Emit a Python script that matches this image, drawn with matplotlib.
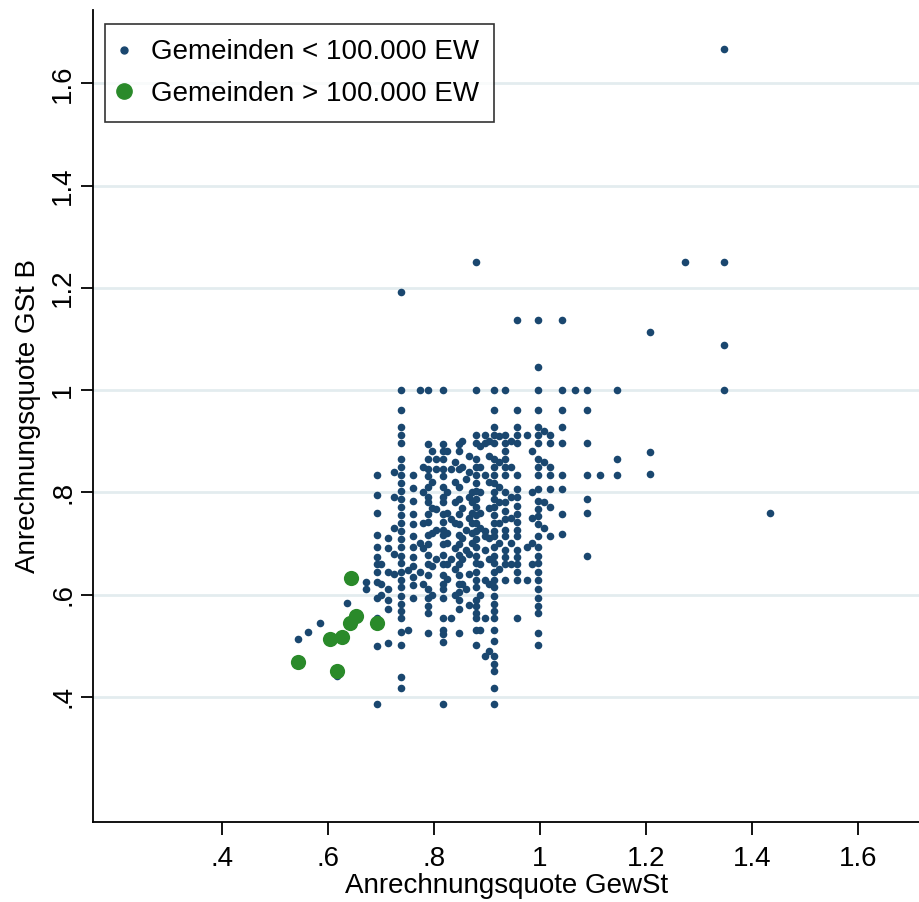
import matplotlib
matplotlib.use("Agg")
import matplotlib.pyplot as plt
from matplotlib.lines import Line2D

plt.rcParams['font.family'] = ['Liberation Sans', 'DejaVu Sans']

# ---- data: municipalities < 100.000 inhabitants, grouped by x value ----
col_x = [0.543, 0.562, 0.585, 0.617, 0.636, 0.672,
         0.692, 0.700, 0.713, 0.725, 0.738, 0.751, 0.760, 0.774, 0.780, 0.789,
         0.797, 0.804, 0.817, 0.825, 0.832, 0.840, 0.847, 0.853, 0.860, 0.866,
         0.872, 0.879, 0.887, 0.896, 0.905, 0.913, 0.922, 0.934, 0.945, 0.957,
         0.975, 0.985, 0.996, 1.008, 1.019, 1.042, 1.066, 1.089, 1.113, 1.145,
         1.208, 1.274, 1.347, 1.434]
col_y = [
    [0.512],                                   # 0.543
    [0.527],                                   # 0.562
    [0.545],                                   # 0.585
    [0.440],                                   # 0.617
    [0.584],                                   # 0.636
    [0.625, 0.610],                            # 0.672
    [0.833, 0.794, 0.759, 0.716, 0.692, 0.673, 0.659, 0.645, 0.624, 0.594, 0.555, 0.500, 0.386],
    [0.660, 0.620, 0.600],                     # 0.700
    [0.710, 0.690, 0.645, 0.610, 0.590, 0.571, 0.506],
    [0.840, 0.790, 0.730, 0.680, 0.640],       # 0.725
    [1.192, 1.000, 0.961, 0.927, 0.912, 0.896, 0.865, 0.849, 0.833, 0.818, 0.802, 0.786, 0.771,
     0.755, 0.739, 0.724, 0.708, 0.692, 0.676, 0.661, 0.645, 0.629, 0.614, 0.598, 0.582, 0.567,
     0.555, 0.526, 0.502, 0.439, 0.418],
    [0.530, 0.647],                            # 0.751
    [0.833, 0.808, 0.782, 0.757, 0.737, 0.714, 0.692, 0.673, 0.655, 0.635, 0.618, 0.594],
    [1.000, 0.700, 0.645],                     # 0.774
    [0.850, 0.800, 0.740, 0.690, 0.620],       # 0.780
    [1.000, 0.894, 0.865, 0.845, 0.831, 0.810, 0.790, 0.780, 0.757, 0.741, 0.716, 0.698, 0.678,
     0.659, 0.639, 0.610, 0.594, 0.578, 0.563, 0.524],
    [0.880, 0.820, 0.770, 0.720, 0.655, 0.600],  # 0.797
    [0.865, 0.845, 0.767, 0.727, 0.669],       # 0.804
    [1.000, 0.894, 0.880, 0.865, 0.845, 0.831, 0.810, 0.790, 0.780, 0.757, 0.741, 0.727, 0.716,
     0.698, 0.678, 0.659, 0.639, 0.620, 0.610, 0.594, 0.555, 0.531, 0.522, 0.508, 0.386],
    [0.880, 0.800, 0.760, 0.720, 0.700, 0.660, 0.630],  # 0.825
    [0.845, 0.747, 0.669, 0.555],              # 0.832
    [0.860, 0.820, 0.780, 0.740, 0.690, 0.650, 0.600],  # 0.840
    [0.894, 0.880, 0.845, 0.810, 0.786, 0.757, 0.737, 0.716, 0.698, 0.678, 0.659, 0.639, 0.620,
     0.604, 0.590, 0.571, 0.524],
    [0.900, 0.850, 0.770, 0.710, 0.670, 0.620],  # 0.853
    [0.825, 0.727, 0.688, 0.610],              # 0.860
    [0.870, 0.840, 0.790, 0.750, 0.680, 0.640, 0.580],  # 0.866
    [0.800, 0.780, 0.760, 0.740, 0.720, 0.700],  # 0.872
    [1.251, 1.000, 0.912, 0.896, 0.865, 0.849, 0.833, 0.818, 0.802, 0.786, 0.771, 0.755, 0.739,
     0.724, 0.708, 0.692, 0.676, 0.661, 0.645, 0.629, 0.614, 0.590, 0.578, 0.563, 0.555, 0.531,
     0.502],
    [0.890, 0.850, 0.800, 0.760, 0.730, 0.660, 0.600, 0.530],  # 0.887
    [0.912, 0.896, 0.833, 0.725, 0.714, 0.688, 0.629, 0.555, 0.479],
    [0.900, 0.870, 0.820, 0.770, 0.710, 0.670, 0.620, 0.490],  # 0.905
    [1.000, 0.961, 0.927, 0.912, 0.896, 0.865, 0.849, 0.833, 0.818, 0.800, 0.786, 0.771, 0.755,
     0.739, 0.724, 0.714, 0.692, 0.676, 0.661, 0.645, 0.629, 0.614, 0.598, 0.582, 0.567, 0.555,
     0.531, 0.510, 0.479, 0.465, 0.450, 0.418, 0.386],
    [0.910, 0.860, 0.810, 0.780, 0.740, 0.700, 0.650],  # 0.922
    [1.000, 0.912, 0.896, 0.880, 0.865, 0.849, 0.833, 0.800, 0.780, 0.763, 0.747, 0.727, 0.714,
     0.688, 0.673, 0.659, 0.629],
    [0.900, 0.850, 0.790, 0.750, 0.700, 0.660],  # 0.945
    [1.137, 0.961, 0.927, 0.912, 0.896, 0.833, 0.806, 0.790, 0.773, 0.757, 0.741, 0.727, 0.714,
     0.688, 0.673, 0.659, 0.645, 0.629, 0.555],
    [0.912, 0.692, 0.629],                     # 0.975
    [0.880, 0.800, 0.750, 0.700, 0.660],       # 0.985
    [1.137, 1.045, 1.000, 0.961, 0.927, 0.912, 0.896, 0.865, 0.849, 0.833, 0.806, 0.782, 0.767,
     0.753, 0.737, 0.714, 0.692, 0.676, 0.661, 0.645, 0.629, 0.610, 0.594, 0.578, 0.563, 0.524,
     0.502],
    [0.920, 0.860, 0.780, 0.730],              # 1.008
    [0.912, 0.896, 0.849, 0.833, 0.806, 0.771, 0.714],
    [1.137, 1.000, 0.961, 0.927, 0.896, 0.833, 0.806, 0.757, 0.718],
    [1.000],
    [1.000, 0.961, 0.896, 0.833, 0.786, 0.759, 0.676],
    [0.833],
    [1.000, 0.865, 0.833],
    [1.114, 0.878, 0.835],
    [1.250],
    [1.667, 1.250, 1.088, 1.000],
    [0.759],
]

# ---- municipalities > 100.000 inhabitants ----
green_x = [0.643, 0.653, 0.642, 0.692, 0.626, 0.604, 0.543, 0.617]
green_y = [0.633, 0.557, 0.545, 0.545, 0.516, 0.512, 0.467, 0.451]

labels = ["Gemeinden < 100.000 EW", "Gemeinden > 100.000 EW"]
ticks = [0.4, 0.6, 0.8, 1.0, 1.2, 1.4, 1.6]
tick_labels = [".4", ".6", ".8", "1", "1.2", "1.4", "1.6"]

blue_x = [x for x, ys in zip(col_x, col_y) for _ in ys]
blue_y = [y for ys in col_y for y in ys]

navy = "#1a476f"
green = "#2a8a2a"

fig = plt.figure(figsize=(9.2, 9.02), dpi=100)
ax = fig.add_axes([0.101, 0.0887, 0.899, 0.9])

for t in ticks:
    ax.axhline(t, color="#e3ecef", lw=2, zorder=0)

ax.scatter(blue_x, blue_y, s=30, color=navy, linewidths=0, zorder=2)
ax.scatter(green_x, green_y, s=120, color=green, linewidths=0, zorder=3)

ax.set_xlim(0.157, 1.717)
ax.set_ylim(0.155, 1.743)
ax.set_xticks(ticks)
ax.set_xticklabels(tick_labels)
ax.set_yticks(ticks)
ax.set_yticklabels(tick_labels, rotation=90, va="center")
ax.tick_params(axis="both", labelsize=20, length=9, width=1.3, color="black")
ax.tick_params(axis="x", pad=8)
ax.tick_params(axis="y", pad=3)
for s in ["top", "right"]:
    ax.spines[s].set_visible(False)
for s in ["left", "bottom"]:
    ax.spines[s].set_linewidth(1.3)

ax.set_xlabel("Anrechnungsquote GewSt", fontsize=20, labelpad=1)
ax.set_ylabel("Anrechnungsquote GSt B", fontsize=20, labelpad=7)

handles = [
    Line2D([], [], marker="o", ls="", color=navy, markersize=5),
    Line2D([], [], marker="o", ls="", color=green, markersize=11),
]
leg = ax.legend(handles, labels, loc="upper left", bbox_to_anchor=(0.0145, 0.983),
                borderaxespad=0, fontsize=20, frameon=True, fancybox=False,
                edgecolor="black", handletextpad=0.8, borderpad=0.55,
                labelspacing=0.55, handlelength=0.3)
leg.get_frame().set_linewidth(1.2)

fig.savefig("out.png", dpi=100)
